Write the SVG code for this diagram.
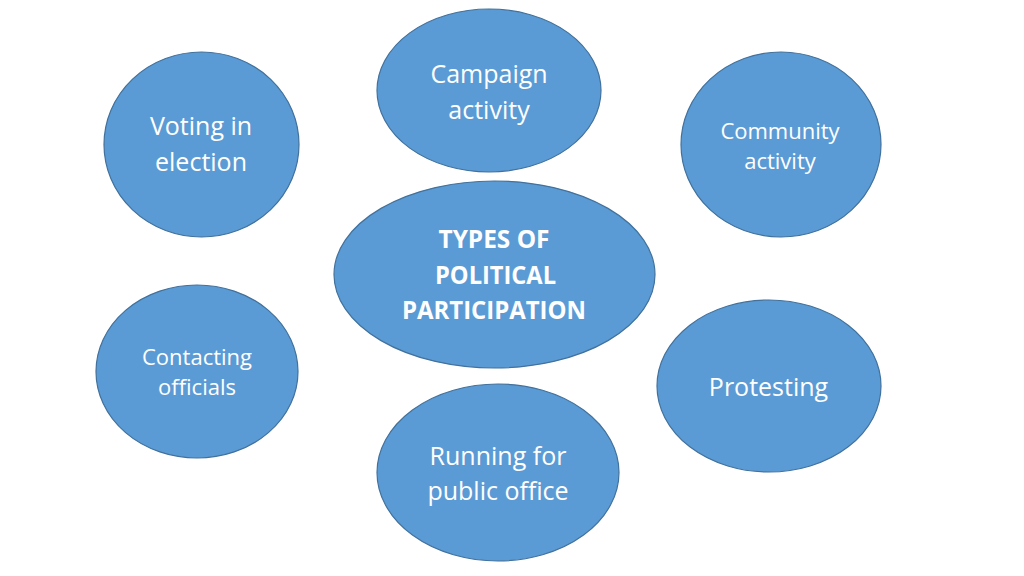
<svg xmlns="http://www.w3.org/2000/svg" width="1024" height="576" viewBox="0 0 1024 576">
<style>
.node ellipse{fill:#5B9BD5;stroke:#41719C;stroke-width:1.2}
.node text{fill:#FFFFFF;font-family:"Open Sans","Liberation Sans",sans-serif;text-anchor:middle}
.l{font-size:25px}
.s{font-size:22px}
.b{font-size:25px;font-weight:bold}
</style>
<rect width="1024" height="576" fill="#FFFFFF"/>
<g id="connectors"></g>
<g id="campaign" class="node">
<ellipse cx="489" cy="90.5" rx="112" ry="81.5"/>
<text class="l" x="489" y="83">Campaign</text>
<text class="l" x="489" y="118.5">activity</text>
</g>
<g id="voting" class="node">
<ellipse cx="201.5" cy="144.5" rx="97.5" ry="92.5"/>
<text class="l" x="201" y="135">Voting in</text>
<text class="l" x="201" y="171">election</text>
</g>
<g id="community" class="node">
<ellipse cx="781" cy="144.5" rx="100" ry="92.5"/>
<text class="s" x="780" y="139">Community</text>
<text class="s" x="780" y="168.5">activity</text>
</g>
<g id="center" class="node">
<ellipse cx="494.5" cy="274.5" rx="160.5" ry="93.5"/>
<text class="b" x="494" y="248" textLength="111" lengthAdjust="spacingAndGlyphs">TYPES OF</text>
<text class="b" x="495.5" y="283.5" textLength="121" lengthAdjust="spacingAndGlyphs">POLITICAL</text>
<text class="b" x="494" y="319" textLength="184" lengthAdjust="spacingAndGlyphs">PARTICIPATION</text>
</g>
<g id="contacting" class="node">
<ellipse cx="197" cy="371.5" rx="101" ry="86.5"/>
<text class="s" x="197" y="364.5">Contacting</text>
<text class="s" x="197" y="395">officials</text>
</g>
<g id="protesting" class="node">
<ellipse cx="769" cy="386" rx="112" ry="86"/>
<text class="l" x="768.5" y="395.5">Protesting</text>
</g>
<g id="running" class="node">
<ellipse cx="498" cy="472.5" rx="121" ry="88.5"/>
<text class="l" x="498" y="465">Running for</text>
<text class="l" x="498" y="500">public office</text>
</g>
</svg>
